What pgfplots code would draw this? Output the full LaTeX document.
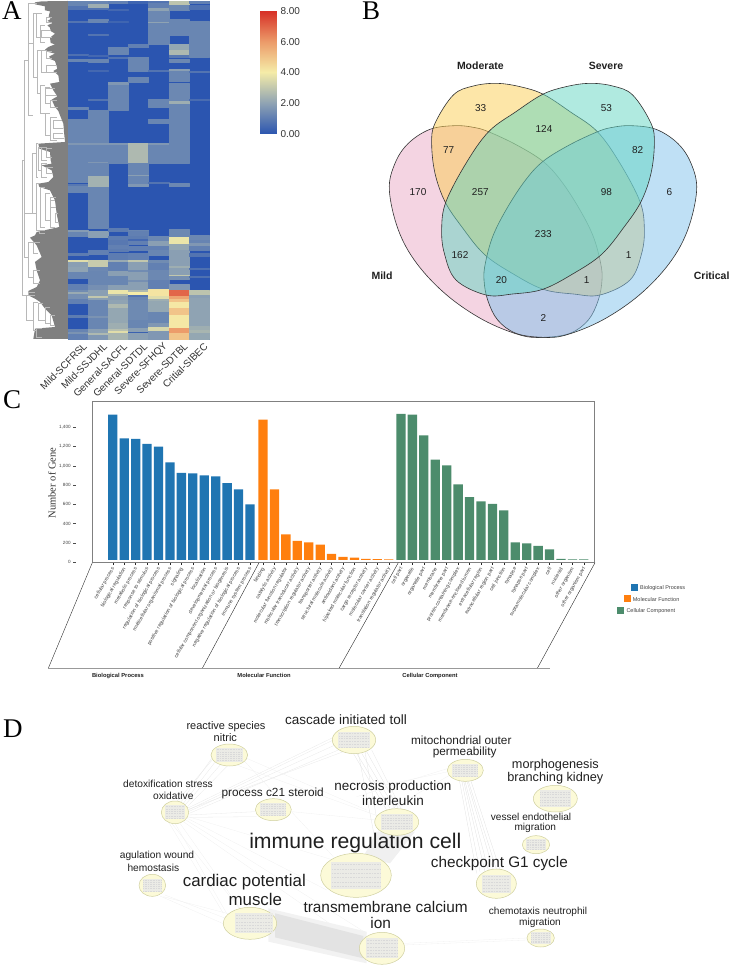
\documentclass[border=0pt]{standalone}
\usepackage{fontspec}
\setmainfont{Liberation Sans}
\newfontfamily\serifp{Liberation Serif}
\usepackage{pgfplots}
\pgfplotsset{compat=1.18}
\pgfplotsset{/pgf/number format/assume math mode=true}
\newcommand\fs[1]{\fontsize{#1}{#1}\selectfont}
\definecolor{bpc}{HTML}{1F75B2}
\definecolor{mfc}{HTML}{FF7F0E}
\definecolor{ccc}{HTML}{4C8C6C}
\definecolor{vmild}{HTML}{E9A9C5}
\definecolor{vmod}{HTML}{FBCD51}
\definecolor{vsev}{HTML}{61D5C1}
\definecolor{vcrit}{HTML}{7FC1EB}
\pgfplotsset{
  colormap={heat}{rgb255=(43,85,176) rgb255=(143,163,179) rgb255=(245,236,168) rgb255=(236,156,106) rgb255=(215,48,39)},
  px/.style={scale only axis,hide axis,clip=false,anchor=south west,y dir=reverse}
}
% heat map cell: x0 x1 y0 y1 value
\newcommand\cell[5]{\addplot[patch,patch type=rectangle,shader=flat,point meta=explicit,forget plot] coordinates {(#1,#3)[#5] (#2,#3)[#5] (#2,#4)[#5] (#1,#4)[#5]};}
\newcommand\colA{\cell{0}{1}}
\newcommand\colB{\cell{1}{2}}
\newcommand\colC{\cell{2}{3}}
\newcommand\colD{\cell{3}{4}}
\newcommand\colE{\cell{4}{5}}
\newcommand\colF{\cell{5}{6}}
\newcommand\colG{\cell{6}{7}}
% dendrogram bracket: stem x, y1, y2, end1, end2
\newcommand\br[5]{\addplot[color=black!28,line width=0.45pt] coordinates {(#4,#2)(#1,#2)(#1,#3)(#5,#3)};}
% text helper
\newcommand\lab[4]{\node[font=\fs{#3},text=black!88,inner sep=0pt] at (axis cs:#1,#2) {#4};}
% network edge
\newcommand\edge[5][black!9]{\addplot[color=#1,line width=0.3pt] coordinates {(#2,#3)(#4,#5)};}
% network marks
\pgfdeclareplotmark{ell}{\pgfpathellipse{\pgfpointorigin}{\pgfpoint{\rx pt}{0pt}}{\pgfpoint{0pt}{\ry pt}}\pgfusepathqfillstroke}
\pgfdeclareplotmark{blk}{%
  \pgfpathrectanglecorners{\pgfpoint{-0.72*\rx pt}{-0.62*\ry pt}}{\pgfpoint{0.72*\rx pt}{0.62*\ry pt}}\pgfusepathqfill
  \pgfsetdash{{0.9pt}{0.7pt}}{0pt}\pgfsetlinewidth{0.4pt}\pgfsetstrokecolor{black!15}%
  \foreach \f in {-0.5,-0.3,-0.1,0.1,0.3,0.5}{\pgfpathmoveto{\pgfpoint{-0.68*\rx pt}{\f*\ry pt}}\pgfpathlineto{\pgfpoint{0.68*\rx pt}{\f*\ry pt}}\pgfusepathqstroke}}
\begin{document}
\begin{tikzpicture}[x=1pt,y=1pt]
\path[use as bounding box] (0,0) rectangle (731pt,966pt);

%%%%%% A: heat map
\begin{axis}[at={(68pt,627pt)},anchor=south west,width=141pt,height=338pt,scale only axis,
  xmin=0,xmax=7,ymin=1,ymax=339,y dir=reverse,colormap name=heat,point meta min=0,point meta max=8,
  axis line style={draw=none},ytick=\empty,xtick={0.5,1.5,2.5,3.5,4.5,5.5,6.5},major tick length=0pt,
  xticklabels={Mild-SCFRSL,Mild-SSJDHL,General-SACFL,General-SDTDL,Severe-SFHQY,Severe-SDTBL,Critial-SIBEC},
  xticklabel style={font=\fs{10},text=black!80,rotate=45,anchor=east,xshift=4.5pt,yshift=-9pt},clip=false]
\cell{0}{7}{1}{339}{0}
% column 1
\colA{1}{6}{1.25}\colA{6}{9}{0.8}\colA{21}{22}{0.8}\colA{54}{55}{0.7}\colA{59}{61}{1.25}\colA{107}{109}{1.25}
\colA{119}{143}{1.25}\colA{143}{145.5}{1.7}\colA{145.5}{182}{1.25}\colA{184}{186}{0.9}\colA{186}{192}{1.25}
\colA{230}{232}{1.8}\colA{232}{236.7}{1.25}\colA{253}{255}{1}\colA{260}{262}{3.6}\colA{262}{267}{1.9}\colA{267}{272}{2}
\colA{272}{278.5}{1.25}\colA{284.5}{290}{1.1}\colA{290}{292}{1.4}\colA{292}{294}{2.2}\colA{294}{299}{1.5}\colA{299}{303}{1.1}
\colA{315}{317.5}{1}\colA{329}{331}{1.2}\colA{332}{334}{1.6}\colA{334}{339}{1.1}
% column 2
\colB{1}{4}{1.25}\colB{4}{8}{2.3}\colB{8}{9}{0.8}\colB{19}{22}{1.25}\colB{34}{35}{0.8}\colB{55}{56}{0.5}\colB{59}{62.5}{1.25}\colB{70}{71}{0.5}
\colB{99.5}{100.5}{0.8}\colB{110}{143}{1.25}\colB{143}{145.5}{1.7}\colB{145.5}{162}{1.25}\colB{162}{163}{1.7}\colB{163}{176}{1.25}
\colB{176}{187.3}{2.4}\colB{187.3}{228.3}{1.25}\colB{231}{237}{1.9}\colB{250}{254}{1.1}\colB{260}{267.3}{3.1}\colB{267.3}{271.7}{1.3}
\colB{271.7}{285}{1.25}\colB{285}{290}{1.5}\colB{290}{296}{1.9}\colB{296}{298}{3}\colB{298}{300.7}{1.9}\colB{300.7}{316}{1.25}
\colB{316}{318}{1.6}\colB{318}{329}{1.25}\colB{329}{333}{1.9}\colB{333}{335}{2.6}\colB{335}{339}{1.7}
% column 3
\colC{1}{3}{1.1}\colC{9}{10}{0.5}\colC{21.5}{22.5}{0.4}\colC{47}{54.3}{1.25}\colC{57}{58}{0.8}\colC{82.7}{85}{1.7}\colC{85}{110}{1.25}
\colC{143.3}{145.5}{1.7}\colC{145.5}{163}{1.25}\colC{228}{231}{1}\colC{236.7}{240}{1}\colC{240}{245}{0.9}\colC{245}{249}{1.1}
\colC{249}{251}{1}\colC{253}{260.5}{1}\colC{260.5}{262.5}{2.2}\colC{262.5}{271}{1.1}\colC{271}{276}{1.9}\colC{276}{285}{1.25}
\colC{285}{290}{1.9}\colC{290}{294}{3.8}\colC{294}{296.5}{2.5}\colC{296.5}{300}{1.9}\colC{300}{304}{2}\colC{304}{308.5}{2.6}
\colC{308.5}{323}{2.1}\colC{323}{329}{2.3}\colC{329}{331.5}{2.8}\colC{331.5}{333.5}{3.6}\colC{333.5}{339}{2.5}
% column 4
\colD{1}{3}{0.4}\colD{44}{47.7}{1.1}\colD{57}{71}{1.25}\colD{77.3}{82.3}{1.25}\colD{143.3}{163.3}{2.6}\colD{163.3}{175}{1.25}
\colD{175}{176}{1.9}\colD{176}{183.3}{1.25}\colD{184.3}{186}{1.7}\colD{231}{234}{1.1}\colD{230}{231.7}{1.25}\colD{231.7}{235}{1.1}
\colD{236.7}{239.3}{1}\colD{239.3}{241.7}{0.5}\colD{241.7}{244}{1.1}\colD{246.7}{250}{1.1}\colD{253.3}{260.7}{1.1}\colD{260.7}{262}{3}
\colD{262}{290}{1.9}\colD{270}{271}{1.4}\colD{280}{281}{1.5}\colD{290}{292}{2.6}\colD{292}{295}{4}\colD{295}{297.7}{0.8}\colD{297.7}{300.7}{1.25}
\colD{300.7}{320}{1.35}\colD{320}{328.3}{1.25}\colD{328.3}{332.3}{1.9}\colD{332.3}{333.7}{0.3}\colD{333.7}{339}{1.9}
% column 5
\colE{1}{3}{0.8}\colE{3}{7}{1.1}\colE{8}{11}{2}\colE{11}{22}{1.3}\colE{22}{23.5}{2}\colE{23.5}{44}{1.25}\colE{70}{71}{0.8}\colE{99.5}{107.3}{1.25}
\colE{119}{123}{1.25}\colE{143.3}{145.5}{1.7}\colE{145.5}{163.3}{1.25}\colE{182}{183}{0.8}\colE{236.7}{241.7}{1.3}\colE{241.7}{246.7}{1.9}
\colE{246.7}{250.7}{1.1}\colE{250.7}{255}{1.25}\colE{260}{263.3}{1.4}\colE{263.3}{270}{1.1}\colE{270}{280}{1.3}\colE{280}{289.3}{1.1}
\colE{289.3}{296}{4.2}\colE{296}{299}{3.6}\colE{299}{301.7}{2.3}\colE{301.7}{312.7}{2.1}\colE{312.7}{323.3}{1.25}\colE{323.3}{327.3}{1.7}
\colE{327.3}{331.7}{3.4}\colE{331.7}{339}{1.7}
% column 6
\colF{1}{5.7}{2.9}\colF{5.7}{10}{1.3}\colF{19}{35}{1.25}\colF{44}{49}{2.1}\colF{50}{54.3}{2.6}\colF{55}{57.3}{0.9}\colF{59}{62.3}{1.3}\colF{69.5}{71}{1.9}
\colF{71}{81.7}{1.25}\colF{83.3}{101}{1.3}\colF{101}{104.3}{2.3}\colF{104.3}{163.3}{1.25}\colF{183.3}{186.7}{1.3}\colF{229.3}{237.3}{1.3}
\colF{237.3}{244}{3.8}\colF{244}{250}{2.1}\colF{250}{266.7}{1.9}\colF{266.7}{268.3}{2.3}\colF{268.3}{275}{1.9}\colF{275}{276.7}{3}\colF{276.7}{279.3}{1.5}
\colF{284.3}{290}{1.7}\colF{290}{296.7}{7}\colF{296.7}{299}{5.8}\colF{299}{302.7}{5}\colF{302.7}{308.3}{4.1}\colF{308.3}{315}{5}\colF{315}{328.3}{4.1}
\colF{328.3}{333.3}{6}\colF{333.3}{339}{5}
% column 7
\colG{1}{3.5}{1.1}\colG{5.7}{9}{0.7}\colG{21.7}{57.3}{1.25}\colG{71.5}{72.5}{0.8}\colG{99.5}{100.5}{0.6}\colG{235}{240}{1.3}\colG{240}{243.3}{1.2}
\colG{243.3}{246.7}{1.7}\colG{246.7}{250}{1.1}\colG{253.3}{256.7}{0.8}\colG{268}{269}{0.7}\colG{276.5}{277.5}{0.7}\colG{290}{295}{2.9}\colG{295}{298}{1.9}
\colG{298}{326.7}{2}\colG{326.7}{330}{2.3}\colG{330}{333.3}{2.5}\colG{333.3}{339}{2.1}
\end{axis}

%%%%%% A: colour bar
\begin{axis}[at={(260pt,832pt)},anchor=south west,width=16pt,height=123pt,scale only axis,
  xmin=0,xmax=1,ymin=0,ymax=8,colormap name=heat,point meta min=0,point meta max=8,
  axis line style={draw=none},xtick=\empty,ytick={0,2,4,6,8},yticklabel pos=right,major tick length=0pt,
  tick label style={font=\fs{10},text=black!80},
  yticklabel style={/pgf/number format/fixed,/pgf/number format/fixed zerofill,/pgf/number format/precision=2,xshift=1pt}]
\addplot[surf,shader=interp,mesh/cols=2,point meta=y] coordinates {(0,0)(1,0)(0,2)(1,2)(0,4)(1,4)(0,6)(1,6)(0,8)(1,8)};
\end{axis}

%%%%%% A: dendrogram (units: 1/3 pixel)
\begin{axis}[px,at={(20pt,627pt)},width=48pt,height=338pt,xmin=60,xmax=204,ymin=2,ymax=1016]
\addplot[fill=black!50,draw=none] coordinates {(204,2)(125,3)(105,6)(105,12)(135,18)(135,30)(150,33)(146,48)(152,56)(142,62)(158,68)(142,75)(150,82)(152,92)(165,100)(150,112)(152,128)(165,132)(145,140)(135,148)(145,155)(165,160)(148,168)(150,176)(165,182)(172,205)(160,212)(175,225)(178,245)(150,250)(160,270)(172,288)(155,298)(165,320)(175,332)(180,345)(190,370)(192,395)(195,425)(115,430)(118,445)(150,455)(152,480)(155,490)(125,495)(155,510)(160,530)(145,545)(115,550)(118,560)(150,570)(165,600)(170,640)(178,680)(110,695)(105,705)(90,712)(110,735)(125,770)(105,785)(110,810)(120,840)(110,860)(85,872)(85,885)(105,895)(120,905)(135,925)(155,945)(165,980)(105,985)(100,1016)(204,1016)} --cycle;
\br{68}{480}{885}{74}{78}\br{74}{180}{640}{85}{97}\br{85}{8}{345}{100}{100}
\br{85}{8}{130}{110}{100}\br{100}{40}{230}{110}{112}\br{110}{40}{110}{125}{122}\br{122}{75}{125}{135}{135}
\br{112}{150}{280}{125}{120}\br{125}{150}{215}{140}{140}\br{120}{255}{340}{135}{135}\br{135}{260}{310}{150}{150}
\br{135}{340}{405}{150}{150}\br{150}{350}{420}{170}{170}\br{97}{460}{640}{108}{110}\br{108}{430}{530}{115}{115}
\br{115}{440}{510}{125}{125}\br{125}{440}{480}{140}{140}\br{125}{490}{530}{140}{140}\br{110}{550}{690}{120}{118}
\br{120}{560}{680}{135}{135}\br{135}{580}{660}{150}{150}\br{150}{600}{680}{165}{165}\br{118}{690}{700}{135}{135}
\br{74}{640}{770}{97}{85}\br{85}{725}{830}{100}{100}\br{100}{725}{760}{120}{115}\br{100}{810}{850}{120}{120}
\br{78}{885}{960}{100}{100}\br{100}{905}{990}{115}{110}\br{115}{910}{960}{130}{135}\br{135}{920}{970}{150}{150}
\br{150}{945}{975}{165}{165}\br{110}{985}{1010}{125}{125}\br{85}{875}{885}{105}{105}
\br{140}{50}{65}{155}{155}\br{125}{90}{112}{152}{155}\br{140}{152}{175}{155}{155}\br{140}{195}{215}{170}{172}
\br{135}{265}{285}{165}{170}\br{150}{300}{320}{170}{175}\br{160}{360}{385}{185}{188}\br{160}{400}{415}{190}{192}
\br{140}{445}{470}{155}{155}\br{140}{500}{520}{158}{160}\br{150}{590}{620}{168}{168}\br{165}{640}{665}{175}{178}
\end{axis}

%%%%%% B: Venn diagram (units: 1/3 pixel)
\begin{axis}[px,at={(340pt,596pt)},width=391pt,height=370pt,xmin=0,xmax=1173,ymin=0,ymax=1110]
% Mild
\addplot[smooth cycle,tension=0.6,fill=vmild,fill opacity=0.5,draw=black!80,line width=0.6pt] coordinates {(345,377)(400,382)(445,395)(530,435)(610,485)(665,545)(720,630)(760,710)(782,790)(786,840)(775,900)(745,960)(690,1000)(610,1012)(540,1005)(430,960)(320,885)(230,790)(175,690)(148,570)(165,490)(205,430)(270,388)};
% Moderate
\addplot[smooth cycle,tension=0.6,fill=vmod,fill opacity=0.5,draw=black!80,line width=0.6pt] coordinates {(470,250)(540,260)(610,283)(690,335)(772,395)(840,490)(900,605)(913,685)(905,760)(870,840)(780,885)(700,882)(610,868)(520,822)(433,763)(365,680)(315,605)(285,520)(275,430)(285,370)(340,285)(400,258)};
% Critical
\addplot[smooth cycle,tension=0.6,fill=vcrit,fill opacity=0.5,draw=black!80,line width=0.6pt] coordinates {(873,377)(818,382)(773,395)(688,435)(608,485)(553,545)(498,630)(458,710)(436,790)(432,840)(443,900)(473,960)(528,1000)(608,1012)(678,1005)(788,960)(898,885)(988,790)(1043,690)(1070,570)(1053,490)(1013,430)(948,388)};
% Severe
\addplot[smooth cycle,tension=0.6,fill=vsev,fill opacity=0.5,draw=black!80,line width=0.6pt] coordinates {(748,250)(678,260)(608,283)(528,335)(446,395)(378,490)(318,605)(305,685)(313,760)(348,840)(438,885)(518,882)(608,868)(698,822)(785,763)(853,680)(903,605)(933,520)(943,430)(933,370)(878,285)(818,258)};
\lab{422}{325}{10}{33}\lab{799}{325}{10}{53}\lab{612}{388}{10}{124}\lab{326}{451}{10}{77}\lab{893}{451}{10}{82}
\lab{234}{577}{10}{170}\lab{421}{577}{10}{257}\lab{799}{577}{10}{98}\lab{988}{577}{10}{6}\lab{610}{702}{10}{233}
\lab{360}{765}{10}{162}\lab{866}{765}{10}{1}\lab{484}{840}{10}{20}\lab{740}{840}{10}{1}\lab{610}{953}{10}{2}
\lab{421}{198}{10.5}{\bfseries Moderate}\lab{798}{198}{10.5}{\bfseries Severe}\lab{126}{827}{10.5}{\bfseries Mild}\lab{1115}{827}{10.5}{\bfseries Critical}
\end{axis}

%%%%%% C: bar chart
\begin{axis}[at={(92.3pt,403.7pt)},anchor=south west,width=502.4pt,height=161pt,scale only axis,
  xmin=-1.794,xmax=42.16,ymin=0,ymax=1668,axis on top,
  axis line style={draw=black!50,line width=0.6pt},
  ybar,bar shift=0pt,bar width=9.3pt,
  ytick={0,200,400,600,800,1000,1200,1400},
  yticklabel style={font=\fs{4.6},text=black!75,/pgf/number format/1000 sep={,},xshift=-15.5pt},
  ytick style={xshift=-16.6pt,draw=black!70,line width=0.4pt},
  xtick={0,1,2,3,4,5,6,7,8,9,10,11,12,13.14,14.14,15.14,16.14,17.14,18.14,19.14,20.14,21.14,22.14,23.14,24.14,25.21,26.21,27.21,28.21,29.21,30.21,31.21,32.21,33.21,34.21,35.21,36.21,37.21,38.21,39.21,40.21,41.21},
  xticklabels={cellular process\hspace{10pt},biological regulation\hspace{10pt},metabolic process,response to stimulus,regulation of biological process,multicellular organismal process,signaling,positive regulation of biological process,localization,developmental process,cellular component organization or biogenesis,negative regulation of biological process,immune system process,binding,catalytic activity\hspace{3pt},molecular function regulator\hspace{3pt},molecular transducer activity,transcription regulator activity,transporter activity,structural molecule activity,antioxidant activity,hijacked molecular function,cargo receptor activity,molecular carrier activity,translation regulator activity,cell part,organelle,organelle part,membrane,membrane part,protein-containing complex,membrane-enclosed lumen,extracellular region,extracellular region part,cell junction,synapse,synapse part,supramolecular complex,cell,nucleoid,other organism,other organism part},
  xticklabel style={font=\fs{5.1},text=black!75,rotate=60,anchor=east,yshift=-2pt,xshift=1pt},
  xtick style={draw=black!85,line width=0.4pt},tick align=outside,major tick length=2.6pt,
  xtick pos=bottom,ytick pos=left]
\addplot[fill=bpc,draw=none] coordinates {(0,1530)(1,1285)(2,1278)(3,1226)(4,1198)(5,1036)(6,926)(7,922)(8,901)(9,891)(10,819)(11,756)(12,601)};
\addplot[fill=mfc,draw=none] coordinates {(13.14,1478)(14.14,756)(15.14,290)(16.14,221)(17.14,207)(18.14,183)(19.14,86)(20.14,55)(21.14,48)(22.14,35)(23.14,33)(24.14,31)};
\addplot[fill=ccc,draw=none] coordinates {(25.21,1537)(26.21,1530)(27.21,1316)(28.21,1064)(29.21,1005)(30.21,808)(31.21,674)(32.21,632)(33.21,604)(34.21,539)(35.21,207)(36.21,197)(37.21,169)(38.21,135)(39.21,35)(40.21,31)(41.21,31)};
\addplot[sharp plot,draw=white,line width=2.4pt,forget plot,bar shift=0pt] coordinates {(-1.7,12.5)(42.1,12.5)};
\addplot[sharp plot,draw=black!85,line width=0.5pt,forget plot] coordinates {(-1.794,0)(42.16,0)};
\end{axis}

%%%%%% Canvas: panel letters, Panel C decoration (units: pixels)
\begin{axis}[px,at={(0pt,0pt)},width=731pt,height=966pt,xmin=0,xmax=731,ymin=0,ymax=966]
\addplot[color=black!85,line width=0.4pt] coordinates {(92.3,562.7)(48.3,668.3)};
\addplot[color=black!85,line width=0.4pt] coordinates {(259,562.7)(202.3,668.3)};
\addplot[color=black!85,line width=0.4pt] coordinates {(398.3,562.7)(339,668.3)};
\addplot[color=black!85,line width=0.4pt] coordinates {(595,562.7)(537.3,668.3)};
\addplot[color=black!40,line width=0.8pt] coordinates {(48.3,668.6)(550,668.6)};
\addplot[fill=bpc,draw=none] coordinates {(630.7,583.7)(637.7,583.7)(637.7,590.7)(630.7,590.7)} --cycle;
\addplot[fill=mfc,draw=none] coordinates {(624,595)(631,595)(631,602)(624,602)} --cycle;
\addplot[fill=ccc,draw=none] coordinates {(617,606.7)(624,606.7)(624,613.7)(617,613.7)} --cycle;
\node[font=\fs{5.5},text=black!75,anchor=west,inner sep=0pt] at (axis cs:640,588.3) {Biological Process};
\node[font=\fs{5.5},text=black!75,anchor=west,inner sep=0pt] at (axis cs:632.7,599.7) {Molecular Function};
\node[font=\fs{5.5},text=black!75,anchor=west,inner sep=0pt] at (axis cs:626.3,611.3) {Cellular Component};
\lab{118}{675.7}{5.8}{\bfseries Biological Process}
\lab{264}{675.7}{5.8}{\bfseries Molecular Function}
\lab{430}{675.7}{5.8}{\bfseries Cellular Component}
\node[font=\serifp\fs{10.5},text=black!80,rotate=90,inner sep=0pt] at (axis cs:52,483) {Number of Gene};
\node[font=\serifp\fs{27},anchor=base west,inner sep=0pt] at (axis cs:2,19.5) {A};
\node[font=\serifp\fs{27},anchor=base west,inner sep=0pt] at (axis cs:362,19.5) {B};
\node[font=\serifp\fs{27},anchor=base west,inner sep=0pt] at (axis cs:3,408) {C};
\node[font=\serifp\fs{27},anchor=base west,inner sep=0pt] at (axis cs:3,737) {D};
\end{axis}

%%%%%% D: network (units: 1/3 pixel)
\begin{axis}[px,at={(100pt,0pt)},width=631pt,height=266pt,xmin=0,xmax=1893,ymin=0,ymax=798]
\edge{250}{310}{350}{180}\edge{255}{315}{365}{190}\edge{240}{310}{335}{175}\edge{262}{320}{385}{195}\edge{230}{305}{345}{170}
\edge{265}{330}{700}{120}\edge{265}{335}{705}{135}\edge{262}{325}{700}{112}\edge{268}{340}{715}{150}\edge{265}{328}{730}{155}
\edge{266}{345}{466}{335}\edge{266}{352}{470}{350}\edge[black!6]{575}{335}{830}{360}
\edge[black!6]{265}{350}{700}{480}\edge[black!6]{262}{355}{680}{570}\edge[black!6]{258}{360}{800}{700}\edge[black!6]{250}{365}{760}{720}
\edge[black!6]{240}{370}{420}{625}\edge[black!6]{225}{370}{380}{640}\edge[black!6]{215}{370}{430}{640}\edge[black!6]{205}{365}{370}{640}
\edge[black!6]{430}{180}{700}{470}\edge[black!6]{410}{195}{840}{350}\edge[black!6]{440}{175}{800}{330}
\edge[black!11]{770}{160}{870}{325}\edge[black!11]{785}{160}{885}{325}\edge[black!11]{800}{155}{895}{325}\edge[black!11]{815}{150}{905}{330}\edge[black!11]{760}{160}{860}{330}\edge[black!11]{775}{160}{835}{470}\edge[black!11]{795}{155}{850}{470}
\edge[black!6]{1045}{215}{830}{260}\edge[black!6]{1050}{225}{850}{340}\edge[black!6]{1045}{205}{770}{290}
\edge[black!12]{1085}{240}{1140}{515}\edge[black!12]{1095}{244}{1165}{510}\edge[black!12]{1105}{244}{1190}{510}\edge[black!12]{1112}{240}{1200}{510}\edge[black!12]{1078}{240}{1130}{520}\edge[black!12]{1090}{240}{1155}{515}\edge[black!12]{1100}{240}{1180}{510}
\edge[black!6]{195}{585}{390}{660}\edge[black!6]{190}{590}{800}{750}\edge[black!6]{180}{588}{390}{680}
\edge[black!6]{912}{730}{1282}{714}\edge[black!6]{912}{735}{1282}{720}
\addplot[fill=black!5,draw=none] coordinates {(505,625)(800,695)(800,790)(505,725)} --cycle;
\addplot[fill=black!11,draw=none] coordinates {(525,640)(790,708)(790,775)(525,712)} --cycle;
\addplot[fill=black!6,draw=none] coordinates {(830,395)(945,395)(870,490)(790,470)} --cycle;
\addplot[only marks,mark=ell,scatter,point meta=explicit,
  visualization depends on={\thisrow{rx}/3 \as \rx},visualization depends on={\thisrow{ry}/3 \as \ry},
  scatter/@pre marker code/.code={\pgfscope\definecolor{ef}{HTML}{FCFAD8}\definecolor{es}{HTML}{CFCFA0}\pgfsetfillcolor{ef}\pgfsetstrokecolor{es}\pgfsetlinewidth{0.5pt}},
  scatter/@post marker code/.code={\endpgfscope}]
 table[x=x,y=y,meta=rx] {
x y rx ry
388 165 55 33
762 120 65 41
1096 211 54 33
1366 296 66 40
225 337 41 34
520 329 54 33
890 366 66 40
1308 434 41 27
768 526 106 66
1189 551 60 44
157 556 40 33
450 670 80 48
846 745 68 48
1322 714 41 27
};
\addplot[only marks,mark=blk,scatter,point meta=explicit,
  visualization depends on={\thisrow{rx}/3 \as \rx},visualization depends on={\thisrow{ry}/3 \as \ry},
  scatter/@pre marker code/.code={\pgfscope\definecolor{ef}{HTML}{EBEBE6}\pgfsetfillcolor{ef}},
  scatter/@post marker code/.code={\endpgfscope}]
 table[x=x,y=y,meta=rx] {
x y rx ry
388 165 55 33
762 120 65 41
1096 211 54 33
1366 296 66 40
225 337 41 34
520 329 54 33
890 366 66 40
1308 434 41 27
768 526 106 66
1189 551 60 44
157 556 40 33
462 670 80 48
846 745 68 48
1322 714 41 27
};
\lab{766}{430}{21.2}{immune regulation cell}
\lab{433}{545}{16.9}{cardiac potential}\lab{466}{597}{16.9}{muscle}
\lab{857}{620}{15.4}{transmembrane calcium}\lab{842}{670}{15.4}{ion}
\lab{1198}{490}{15.3}{checkpoint G1 cycle}
\lab{738}{60}{13.5}{cascade initiated toll}
\lab{879}{260}{13.5}{necrosis production}\lab{879}{302}{13.5}{interleukin}
\lab{1366}{195}{12.7}{morphogenesis}\lab{1366}{236}{12.7}{branching kidney}
\lab{1084}{121}{11.8}{mitochondrial outer}\lab{1094}{158}{11.8}{permeability}
\lab{378}{80}{11}{reactive species}\lab{376}{114}{11}{nitric}
\lab{204}{253}{10.2}{detoxification stress}\lab{220}{287}{10.2}{oxidative}
\lab{518}{279}{11.8}{process c21 steroid}
\lab{1293}{352}{10.1}{vessel endothelial}\lab{1306}{385}{10.1}{migration}
\lab{1314}{636}{10.1}{chemotaxis neutrophil}\lab{1320}{668}{10.1}{migration}
\lab{171}{468}{10.2}{agulation wound}\lab{160}{504}{10.2}{hemostasis}
\end{axis}
\end{tikzpicture}
\end{document}
